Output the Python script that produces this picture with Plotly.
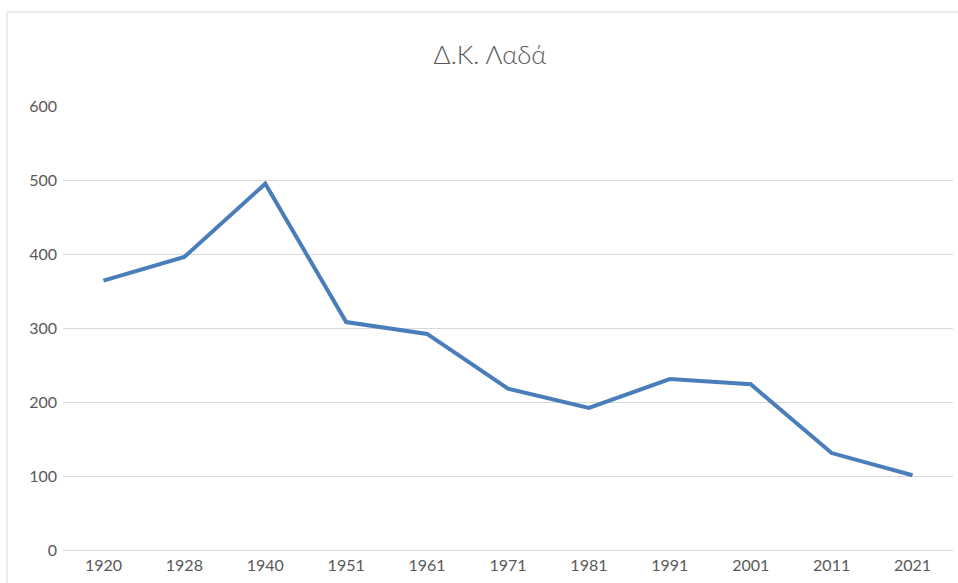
import plotly.graph_objects as go

years = ["1920", "1928", "1940", "1951", "1961", "1971", "1981", "1991", "2001", "2011", "2021"]
population = [364, 396, 495, 308, 292, 218, 192, 231, 224, 131, 101]
y_ticks = [0, 100, 200, 300, 400, 500, 600]

W, H = 958, 583
L, R, T, B = 63, 5, 106, 33
pw, ph = W - L - R, H - T - B

def px_x(x):
    return (x - L) / pw

def px_y(y):
    return (H - B - y) / ph

fig = go.Figure()
fig.add_trace(go.Scatter(
    x=years, y=population, mode="lines",
    line=dict(color="#4A7EBB", width=4),
    hoverinfo="x+y", showlegend=False,
))

fig.update_layout(
    width=W, height=H,
    margin=dict(l=L, r=R, t=T, b=B),
    paper_bgcolor="white", plot_bgcolor="white",
    font=dict(family="Lato, Open Sans, sans-serif", color="#595959", size=16),
    title=dict(text="Δ.Κ. Λαδά", x=490 / W, xanchor="center",
               y=1 - 55 / H, yanchor="middle",
               font=dict(size=26, color="#595959", weight=300)),
    xaxis=dict(type="category", range=[-0.5, len(years) - 0.5],
               showgrid=False, showline=False, zeroline=False,
               ticks="", ticklabelstandoff=4,
               tickfont=dict(size=16, color="#595959")),
    yaxis=dict(range=[0, 600], tickvals=y_ticks, showgrid=True,
               gridcolor="#D9D9D9", gridwidth=1, zeroline=True,
               zerolinecolor="#D9D9D9", zerolinewidth=1, showline=False,
               ticks="", ticklabelstandoff=5,
               tickfont=dict(size=16, color="#595959")),
    shapes=[dict(type="rect", xref="paper", yref="paper",
                 x0=px_x(7), x1=px_x(W + 20), y0=px_y(H + 20), y1=px_y(12),
                 line=dict(color="#D9D9D9", width=1), fillcolor="rgba(0,0,0,0)",
                 layer="below")],
)

fig.write_html("out.html", config={"displayModeBar": False},
               post_script="document.body.style.margin='0';document.body.style.overflow='hidden';")
